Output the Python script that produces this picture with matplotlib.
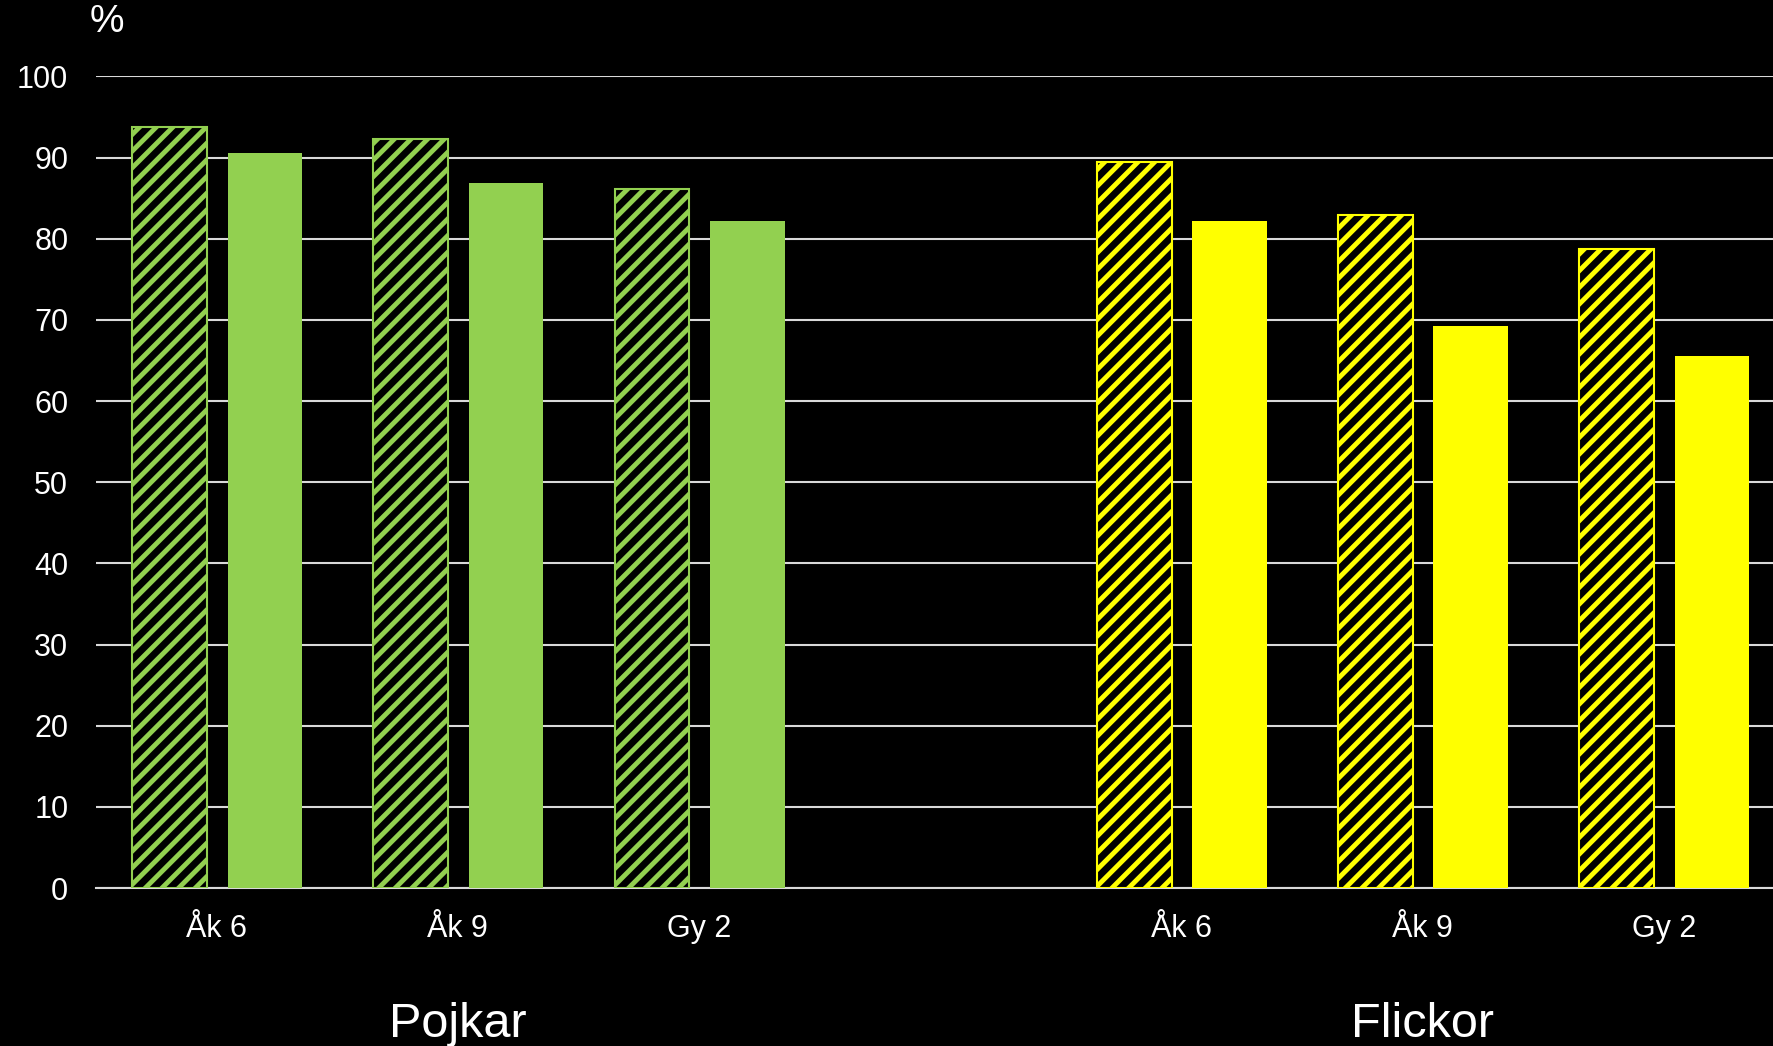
import matplotlib.pyplot as plt
import numpy as np

plt.rcParams['font.family'] = ['Liberation Sans', 'DejaVu Sans']
plt.rcParams['hatch.linewidth'] = 3.5

groups = ["Pojkar", "Flickor"]
grades = ["Åk 6", "Åk 9", "Gy 2"]
tick_labels = grades + [""] + grades

# hatched = first series, solid = second series (blank slot in the middle)
hatched_vals = [93.7, 92.3, 86.1, np.nan, 89.4, 82.9, 78.7]
solid_vals = [90.5, 86.9, 82.2, np.nan, 82.2, 69.2, 65.6]

green = "#92d050"
yellow = "#ffff00"
colors = [green] * 3 + ["none"] + [yellow] * 3

fig = plt.figure(figsize=(17.73, 10.46), dpi=100, facecolor="black")
ax = fig.add_axes([0.0542, 0.151, 0.9458, 0.776])
ax.set_facecolor("black")

x = np.arange(len(tick_labels))
w = 0.31
for i in range(len(x)):
    if np.isnan(hatched_vals[i]):
        continue
    ax.bar(x[i] - 0.195, hatched_vals[i], w, facecolor="black",
           edgecolor=colors[i], hatch="//", linewidth=1.5, zorder=3)
    ax.bar(x[i] + 0.2, solid_vals[i], w, color=colors[i], zorder=3)

ax.set_xlim(-0.5, 6.453)
ax.set_ylim(0, 100)
ax.set_yticks(range(0, 101, 10))
ax.set_xticks(x)
ax.set_xticklabels(tick_labels)
ax.tick_params(axis="both", length=0, colors="white", labelsize=22)
ax.tick_params(axis="x", pad=19)
ax.tick_params(axis="y", pad=20)
ax.grid(axis="y", color="#d9d9d9", linewidth=1.5, zorder=0)
for s in ["top", "right", "left"]:
    ax.spines[s].set_visible(False)
ax.spines["bottom"].set_color("#d9d9d9")
ax.spines["bottom"].set_linewidth(1.5)

ax.text(1, -0.168, groups[0], transform=ax.get_xaxis_transform(),
        ha="center", va="center", color="white", fontsize=35)
ax.text(5, -0.168, groups[1], transform=ax.get_xaxis_transform(),
        ha="center", va="center", color="white", fontsize=35)
fig.text(107 / 1773, 1 - 22 / 1046, "%", ha="center", va="center",
         color="white", fontsize=28)

fig.savefig("out.png", facecolor="black")
